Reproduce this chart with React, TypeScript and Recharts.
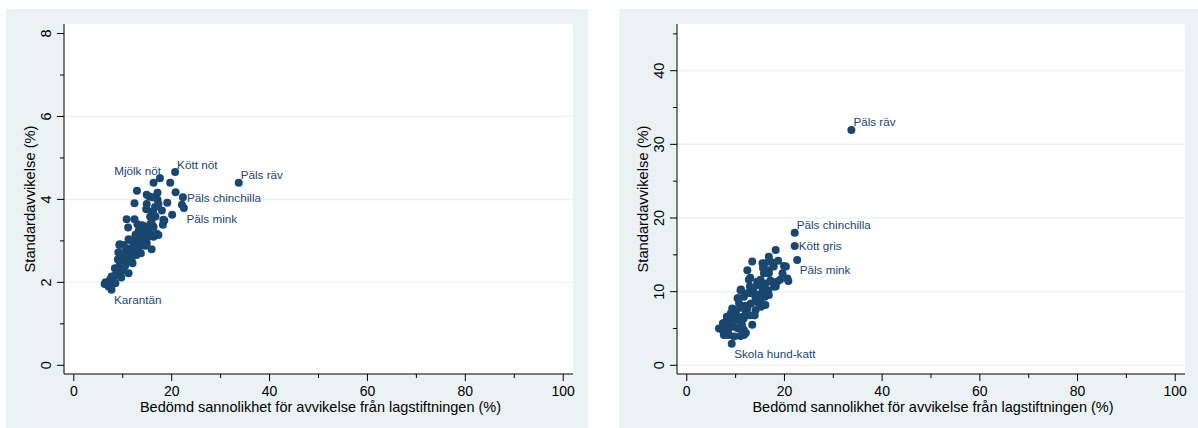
import React from 'react'
import { ScatterChart, Scatter, XAxis, YAxis, CartesianGrid, ReferenceLine, Label } from 'recharts'

const NAVY = '#1a476f'
const PANEL = '#eaf2f3'
const FONT = '"Liberation Sans", Arial, Helvetica, sans-serif'

const xTitle = 'Bedömd sannolikhet för avvikelse från lagstiftningen (%)'
const yTitle = 'Standardavvikelse (%)'

const xTicks = [0, 10, 20, 30, 40, 50, 60, 70, 80, 90, 100]
const xLabels = [0, 20, 40, 60, 80, 100]

const leftYTicks = [0, 1, 2, 3, 4, 5, 6, 7, 8]
const leftYLabels = [0, 2, 4, 6, 8]
const leftGrid = [2, 4, 6]

const rightYTicks = [0, 5, 10, 15, 20, 25, 30, 35, 40, 45]
const rightYLabels = [0, 10, 20, 30, 40]
const rightGrid = [0, 10, 20, 30, 40]

// left panel: standardavvikelse i procentenheter
const leftPoints: [number, number][] = [
  [6.5, 2.0], [6.3, 1.96], [7.1, 1.9], [7.4, 2.06], [8.0, 1.99], [8.5, 1.98], [7.3, 1.98], [8.1, 2.02],
  [7.7, 2.14], [8.5, 2.18], [9.6, 2.14], [9.1, 2.18], [9.7, 2.12], [10.0, 2.3], [11.2, 2.22], [8.9, 2.34],
  [8.4, 2.34], [9.6, 2.46], [9.4, 2.42], [10.1, 2.3], [11.0, 2.54], [12.0, 2.46], [11.8, 2.54], [9.1, 2.72],
  [9.9, 2.62], [10.4, 2.58], [9.7, 2.7], [12.8, 2.66], [13.2, 2.78], [12.1, 2.7], [10.8, 2.82], [11.6, 2.74],
  [13.1, 2.82], [9.4, 2.92], [9.3, 2.9], [11.2, 3.04], [12.0, 2.98], [12.8, 3.04], [11.4, 3.02], [12.5, 2.98],
  [13.6, 2.9], [14.3, 3.02], [15.1, 3.09], [14.2, 3.02], [14.9, 2.94], [15.9, 2.8], [14.0, 3.18], [13.5, 3.18],
  [15.5, 3.18], [15.5, 3.14], [16.3, 3.1], [17.3, 3.14], [16.9, 3.18], [14.1, 3.37], [14.8, 3.26], [13.8, 3.38],
  [14.5, 3.33], [15.9, 3.43], [16.3, 3.34], [11.1, 3.32], [10.8, 3.52], [12.4, 3.52], [16.7, 3.59], [16.4, 3.6],
  [18.5, 3.49], [18.2, 3.39], [18.3, 3.51], [20.1, 3.63], [18.0, 3.73], [14.8, 3.76], [15.9, 3.71], [16.2, 3.71],
  [14.9, 3.89], [12.4, 3.91], [17.1, 3.99], [17.3, 3.89], [19.1, 3.92], [22.1, 3.87], [14.9, 4.11], [16.0, 4.05],
  [17.1, 4.16], [15.4, 4.07], [12.9, 4.21], [20.8, 4.17], [16.3, 4.4], [19.7, 4.4], [13.0, 2.95], [13.8, 3.05],
  [14.6, 3.12], [15.2, 3.28], [15.6, 3.4], [13.3, 3.25], [12.2, 2.85], [13.7, 2.7], [14.6, 2.88], [16.0, 3.55],
  [16.6, 3.82], [15.6, 3.58], [10.5, 2.4], [11.5, 2.65], [12.6, 3.15], [13.0, 3.4], [10.2, 2.9], [9.0, 2.55],
  [10.6, 2.72],
]

const leftLabeled: [number, number, string][] = [
  [33.7, 4.4, 'Päls räv'],
  [20.7, 4.66, 'Kött nöt'],
  [17.6, 4.51, 'Mjölk nöt'],
  [22.3, 4.05, 'Päls chinchilla'],
  [22.5, 3.79, 'Päls mink'],
  [7.7, 1.82, 'Karantän'],
]

// right panel: standardavvikelse i procent av bedömd sannolikhet
const rightPoints: [number, number][] = [
  [18.2, 15.65], [13.4, 14.1], [12.4, 12.9], [15.5, 13.85], [17.2, 14.07], [18.7, 14.2], [19.9, 13.5], [15.8, 12.5],
  [16.8, 12.9], [17.8, 13.4], [19.6, 12.5], [20.6, 11.8], [20.8, 11.45], [12.7, 11.6], [18.5, 11.35], [15.1, 11.6],
  [16.1, 11.1], [18.2, 10.7], [14.4, 10.9], [13.4, 10.2], [11.0, 10.2], [16.8, 9.55], [12.4, 9.8], [14.1, 9.1],
  [15.1, 8.6], [10.4, 9.1], [10.7, 8.4], [16.1, 8.2], [13.1, 8.4], [12.4, 7.7], [9.7, 7.5], [9.0, 7.05],
  [14.1, 7.5], [13.8, 6.8], [11.4, 6.6], [10.4, 6.15], [8.3, 6.15], [7.6, 5.7], [6.6, 5.0], [7.3, 4.8],
  [13.4, 5.5], [8.3, 4.8], [9.7, 5.25], [7.6, 4.1], [8.6, 4.1], [11.0, 3.98], [11.7, 4.1], [11.7, 4.8],
  [12.1, 4.4], [14.4, 11.35], [15.3, 10.7], [16.8, 12.5], [17.1, 11.5], [15.6, 13.2], [16.0, 13.85], [10.5, 9.1],
  [11.7, 9.3], [13.2, 9.8], [14.4, 8.6], [15.2, 7.95], [9.3, 7.7], [10.1, 7.3], [12.1, 7.3], [12.9, 6.8],
  [8.2, 6.6], [9.0, 6.15], [10.9, 6.15], [11.7, 6.4], [7.4, 5.7], [7.8, 4.35], [8.6, 5.0], [10.5, 5.0],
  [11.3, 5.5], [13.9, 6.8], [9.7, 3.9], [7.8, 4.1], [19.1, 11.6], [20.3, 13.4], [17.4, 11.35], [16.7, 10.2],
  [15.6, 10.2], [16.0, 9.3], [17.9, 10.7], [12.9, 10.7], [13.6, 10.2], [11.1, 10.3], [16.8, 14.75], [12.0, 8.1],
  [11.2, 7.8], [10.0, 6.8], [8.8, 5.6], [14.8, 9.6], [13.0, 11.9],
]

const rightLabeled: [number, number, string][] = [
  [33.7, 31.95, 'Päls räv'],
  [22.1, 18.0, 'Päls chinchilla'],
  [22.1, 16.2, 'Kött gris'],
  [22.6, 14.3, 'Päls mink'],
  [9.2, 2.93, 'Skola hund-katt'],
]

// clock-style label placement per panel, like Stata's mlabposition
const leftPlacement: Record<string, string> = {
  'Päls räv': 'ne',
  'Kött nöt': 'ne',
  'Mjölk nöt': 'nw',
  'Päls chinchilla': 'e',
  'Päls mink': 'se',
  'Karantän': 'se',
}
const rightPlacement: Record<string, string> = {
  'Päls räv': 'ne',
  'Päls chinchilla': 'ne',
  'Kött gris': 'e',
  'Päls mink': 'se',
  'Skola hund-katt': 'se',
}

const toRows = (pts: [number, number][]) => pts.map(([x, y]) => ({ x, y }))
const toLabeledRows = (pts: [number, number, string][]) => pts.map(([x, y, label]) => ({ x, y, label }))

const Dot = (props: any) => <circle cx={props.cx} cy={props.cy} r={4} fill={NAVY} />

const makeLabeledDot = (placement: Record<string, string>) => (props: any) => {
  const { cx, cy, payload } = props
  const place = placement[payload.label] || 'e'
  let dx = 4
  let dy = 4.5
  let anchor: 'start' | 'end' = 'start'
  if (place === 'ne') { dx = 2; dy = -3.5 }
  if (place === 'nw') { dx = 1; dy = -3; anchor = 'end' }
  if (place === 'se') { dx = 2.5; dy = 14.5 }
  return (
    <g>
      <circle cx={cx} cy={cy} r={4} fill={NAVY} />
      <text x={cx + dx} y={cy + dy} textAnchor={anchor} fontSize={11.7} fontFamily={FONT} fill={NAVY}>
        {payload.label}
      </text>
    </g>
  )
}

const makeXTick = (labels: number[]) => (props: any) => {
  const { x, y, payload } = props
  const major = labels.includes(payload.value)
  return (
    <g>
      <line x1={x} x2={x} y1={y} y2={y + (major ? 7 : 4)} stroke="#000" strokeWidth={1} />
      {major && (
        <text x={x} y={y + 22} textAnchor="middle" fontSize={14} fontFamily={FONT} fill="#000">
          {payload.value}
        </text>
      )}
    </g>
  )
}

const makeYTick = (labels: number[]) => (props: any) => {
  const { x, y, payload } = props
  const major = labels.includes(payload.value)
  return (
    <g>
      <line x1={x - (major ? 7 : 4)} x2={x} y1={y} y2={y} stroke="#000" strokeWidth={1} />
      {major && (
        <text
          transform={`translate(${x - 13.5},${y}) rotate(-90)`}
          textAnchor="middle"
          fontSize={14.5}
          fontFamily={FONT}
          fill="#000"
        >
          {payload.value}
        </text>
      )}
    </g>
  )
}

const XTitle = (props: any) => {
  const vb = props.viewBox || {}
  return (
    <text x={vb.x + vb.width / 2 + 2} y={vb.y + 37.5} textAnchor="middle" fontSize={14.5} fontFamily={FONT} fill="#000">
      {xTitle}
    </text>
  )
}

const YTitle = (props: any) => {
  const vb = props.viewBox || {}
  const tx = vb.x + vb.width - 29.5
  const ty = vb.y + vb.height / 2
  return (
    <text transform={`translate(${tx},${ty}) rotate(-90)`} textAnchor="middle" fontSize={14.7} fontFamily={FONT} fill="#000">
      {yTitle}
    </text>
  )
}

interface PanelProps {
  left: number
  width: number
  axisWidth: number
  rightMargin: number
  points: [number, number][]
  labeled: [number, number, string][]
  placement: Record<string, string>
  yDomain: [number, number]
  yTicks: number[]
  yLabels: number[]
  grid: number[]
}

function Panel({ left, width, axisWidth, rightMargin, points, labeled, placement, yDomain, yTicks, yLabels, grid }: PanelProps) {
  return (
    <div style={{ position: 'absolute', left, top: 0 }}>
      <ScatterChart width={width} height={428} margin={{ top: 24, right: rightMargin, bottom: 0, left: 0 }}>
        <CartesianGrid horizontal={false} vertical={false} fill="#ffffff" />
        {grid.map(v => (
          <ReferenceLine key={v} y={v} stroke={PANEL} strokeWidth={1.5} />
        ))}
        <XAxis
          type="number"
          dataKey="x"
          domain={[-2, 102]}
          allowDataOverflow
          ticks={xTicks}
          interval={0}
          tickSize={0}
          tickMargin={0}
          tickLine={false}
          tick={makeXTick(xLabels)}
          axisLine={{ stroke: '#000', strokeWidth: 1 }}
          height={54}
        >
          <Label content={XTitle} />
        </XAxis>
        <YAxis
          type="number"
          dataKey="y"
          domain={yDomain}
          allowDataOverflow
          ticks={yTicks}
          interval={0}
          tickSize={0}
          tickMargin={0}
          tickLine={false}
          tick={makeYTick(yLabels)}
          axisLine={{ stroke: '#000', strokeWidth: 1 }}
          width={axisWidth}
        >
          <Label content={YTitle} />
        </YAxis>
        <Scatter data={toRows(points)} shape={Dot} isAnimationActive={false} />
        <Scatter data={toLabeledRows(labeled)} shape={makeLabeledDot(placement)} isAnimationActive={false} />
      </ScatterChart>
    </div>
  )
}

export default function App() {
  return (
    <div style={{ position: 'absolute', left: 0, top: 0, width: 1198, height: 428, background: '#fff', fontFamily: FONT }}>
      <div style={{ position: 'absolute', left: 6, top: 9, width: 582, height: 419, background: PANEL }} />
      <div style={{ position: 'absolute', left: 619, top: 9, width: 579, height: 419, background: PANEL }} />
      <Panel
        left={0}
        width={600}
        axisWidth={64}
        rightMargin={27}
        points={leftPoints}
        labeled={leftLabeled}
        placement={leftPlacement}
        yDomain={[-0.21, 8.23]}
        yTicks={leftYTicks}
        yLabels={leftYLabels}
        grid={leftGrid}
      />
      <Panel
        left={612}
        width={586}
        axisWidth={65}
        rightMargin={13}
        points={rightPoints}
        labeled={rightLabeled}
        placement={rightPlacement}
        yDomain={[-1.18, 46.34]}
        yTicks={rightYTicks}
        yLabels={rightYLabels}
        grid={rightGrid}
      />
    </div>
  )
}
